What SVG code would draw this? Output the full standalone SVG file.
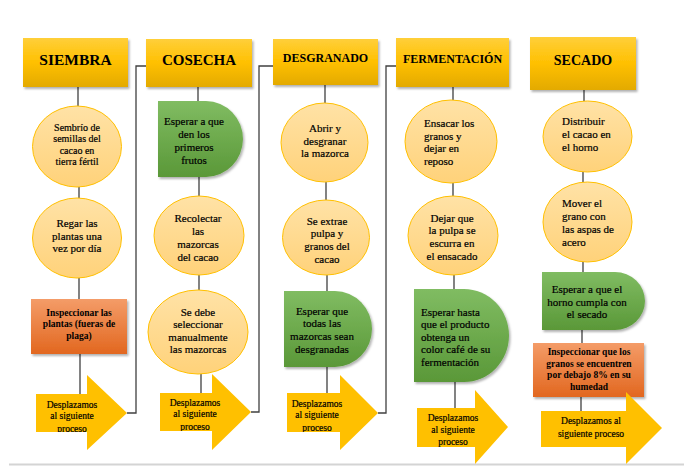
<svg xmlns="http://www.w3.org/2000/svg" width="684" height="466" viewBox="0 0 684 466" font-family="'Liberation Serif', 'Times New Roman', serif">
<defs>
<linearGradient id="gHead" x1="0" y1="0" x2="0" y2="1">
<stop offset="0" stop-color="#FFCF3A"/><stop offset="0.5" stop-color="#FFC000"/><stop offset="1" stop-color="#E3AA00"/>
</linearGradient>
<linearGradient id="gCirc" x1="0" y1="0" x2="0" y2="1">
<stop offset="0" stop-color="#FFE2A6"/><stop offset="1" stop-color="#FFD27A"/>
</linearGradient>
<linearGradient id="gGreen" x1="0" y1="0" x2="0" y2="1">
<stop offset="0" stop-color="#80BC62"/><stop offset="1" stop-color="#5A9838"/>
</linearGradient>
<linearGradient id="gOrange" x1="0" y1="0" x2="0" y2="1">
<stop offset="0" stop-color="#F49C68"/><stop offset="1" stop-color="#E2671F"/>
</linearGradient>
<filter id="sh" x="-10%" y="-10%" width="125%" height="130%">
<feDropShadow dx="1.5" dy="2" stdDeviation="1.2" flood-color="#000" flood-opacity="0.3"/>
</filter>
<clipPath id="clipC3b"><ellipse cx="326" cy="237.5" rx="43.5" ry="37.5"/></clipPath>
<clipPath id="clipA1"><polygon points="36,394 87,394 87,375 127,413 87,450 87,432 36,432"/></clipPath>
<clipPath id="clipA2"><polygon points="160,393 212,393 212,374 251,412 212,450 212,431 160,431"/></clipPath>
<clipPath id="clipA3"><polygon points="287,393 340,393 340,375 378,413 340,450 340,432 287,432"/></clipPath>
</defs>
<style>
.hd{fill:url(#gHead);filter:url(#sh)}
.ci{fill:url(#gCirc);stroke:#FFC000;stroke-width:1}
.gr{fill:url(#gGreen);filter:url(#sh)}
.or{fill:url(#gOrange);filter:url(#sh)}
.ar{fill:#FFC000}
.ln{fill:none;stroke:#404040;stroke-width:1.3}
.ht,.t,.tl,.t10,.tb,.ta{font-family:'Liberation Serif','Times New Roman',serif;fill:#000}
.t,.tl,.t10,.ta{stroke:#000;stroke-width:0.2}
.ht{font-weight:bold;text-anchor:middle}
.t{font-size:11px;text-anchor:middle}
.tl{font-size:11px;text-anchor:start}
.t10{font-size:10px;text-anchor:middle}
.tb{font-size:9.5px;font-weight:bold;text-anchor:middle}
.ta{font-size:9.5px;text-anchor:middle}
</style>
<rect width="684" height="466" fill="#fff"/>
<line x1="9" y1="464.5" x2="684" y2="464.5" stroke="#d4d4d4" stroke-width="2"/>
<g id="connectors">
<line class="ln" x1="78" y1="87" x2="78" y2="106"/>
<line class="ln" x1="79" y1="187" x2="79" y2="198"/>
<line class="ln" x1="79" y1="278" x2="79" y2="299"/>
<line class="ln" x1="80" y1="354" x2="80" y2="394"/>
<path class="ln" d="M127,413 H136 V66 H146"/>
<line class="ln" x1="198" y1="87" x2="198" y2="101"/>
<line class="ln" x1="199" y1="177" x2="199" y2="196"/>
<line class="ln" x1="199" y1="275" x2="199" y2="290"/>
<line class="ln" x1="201" y1="374" x2="201" y2="393"/>
<path class="ln" d="M251,412 H259 V66 H273"/>
<line class="ln" x1="325" y1="85" x2="325" y2="103"/>
<line class="ln" x1="326" y1="182" x2="326" y2="200"/>
<line class="ln" x1="327" y1="275" x2="327" y2="291"/>
<line class="ln" x1="327" y1="367" x2="327" y2="393"/>
<path class="ln" d="M378,413 H386 V66 H396"/>
<line class="ln" x1="453" y1="87" x2="453" y2="100"/>
<line class="ln" x1="453" y1="183" x2="453" y2="196"/>
<line class="ln" x1="454" y1="275" x2="454" y2="289"/>
<line class="ln" x1="455" y1="382" x2="455" y2="408"/>
<line class="ln" x1="584" y1="90" x2="584" y2="101"/>
<line class="ln" x1="583" y1="172" x2="583" y2="182"/>
<line class="ln" x1="583" y1="262" x2="583" y2="272"/>
<line class="ln" x1="582" y1="330" x2="582" y2="343"/>
<line class="ln" x1="581" y1="397" x2="581" y2="411"/>
</g>
<g id="siembra">
<rect class="hd" x="23" y="38" width="105" height="49"/>
<text class="ht" x="75.5" y="64.5" font-size="15.5">SIEMBRA</text>
</g>
<g id="siembra-1">
<ellipse class="ci" cx="77" cy="146.5" rx="44.5" ry="40.5"/>
<text class="t10" x="77"><tspan x="77" y="130.5">Sembrío de</tspan><tspan x="77" y="142">semillas del</tspan><tspan x="77" y="153.5">cacao en</tspan><tspan x="77" y="165">tierra fértil</tspan></text>
</g>
<g id="siembra-2">
<ellipse class="ci" cx="77" cy="238" rx="44.5" ry="40"/>
<text class="t" x="77"><tspan x="77" y="227">Regar las</tspan><tspan x="77" y="239.5">plantas una</tspan><tspan x="77" y="252">vez por día</tspan></text>
</g>
<g id="siembra-3">
<rect class="or" x="31" y="299" width="96" height="55"/>
<text class="tb" x="79"><tspan x="79" y="315.5">Inspeccionar las</tspan><tspan x="79" y="327">plantas (fueras de</tspan><tspan x="79" y="338.5">plaga)</tspan></text>
</g>
<g id="siembra-4">
<polygon class="ar" points="36,394 87,394 87,375 127,413 87,450 87,432 36,432"/>
<text class="ta" x="72" clip-path="url(#clipA1)"><tspan x="72" y="407.5">Desplazamos</tspan><tspan x="72" y="419">al siguiente</tspan><tspan x="72" y="431.5">proceso</tspan></text>
</g>
<g id="cosecha">
<rect class="hd" x="146" y="39" width="106" height="48"/>
<text class="ht" x="199" y="64.5" font-size="15">COSECHA</text>
</g>
<g id="cosecha-1">
<path class="gr" d="M158,101 H206 A37,38 0 0 1 206,177 H158 Z"/>
<text class="t" x="194"><tspan x="194" y="124.5">Esperar a que</tspan><tspan x="194" y="137.5">den los</tspan><tspan x="194" y="150.5">primeros</tspan><tspan x="194" y="163.5">frutos</tspan></text>
</g>
<g id="cosecha-2">
<ellipse class="ci" cx="199" cy="235.5" rx="45" ry="39.5"/>
<text class="t" x="198"><tspan x="198" y="221.5">Recolectar</tspan><tspan x="198" y="234.5">las</tspan><tspan x="198" y="247.5">mazorcas</tspan><tspan x="198" y="260.5">del cacao</tspan></text>
</g>
<g id="cosecha-3">
<ellipse class="ci" cx="198" cy="332" rx="50" ry="42"/>
<text class="t" x="198"><tspan x="198" y="315.5">Se debe</tspan><tspan x="198" y="328">seleccionar</tspan><tspan x="198" y="340.5">manualmente</tspan><tspan x="198" y="353">las mazorcas</tspan></text>
</g>
<g id="cosecha-4">
<polygon class="ar" points="160,393 212,393 212,374 251,412 212,450 212,431 160,431"/>
<text class="ta" x="195" clip-path="url(#clipA2)"><tspan x="195" y="405.5">Desplazamos</tspan><tspan x="195" y="417">al siguiente</tspan><tspan x="195" y="429.5">proceso</tspan></text>
</g>
<g id="desgranado">
<rect class="hd" x="273" y="39" width="105" height="46"/>
<text class="ht" x="325.5" y="62.3" font-size="12">DESGRANADO</text>
</g>
<g id="desgranado-1">
<ellipse class="ci" cx="324.5" cy="142.5" rx="43.5" ry="39.5"/>
<text class="t" x="325"><tspan x="325" y="131.5">Abrir y</tspan><tspan x="325" y="144.5">desgranar</tspan><tspan x="325" y="156.5">la mazorca</tspan></text>
</g>
<g id="desgranado-2">
<ellipse class="ci" cx="326" cy="237.5" rx="43.5" ry="37.5"/>
<text class="t" x="327" clip-path="url(#clipC3b)"><tspan x="327" y="224.5">Se extrae</tspan><tspan x="327" y="236.5">pulpa y</tspan><tspan x="327" y="249.5">granos del</tspan><tspan x="327" y="262.5">cacao</tspan></text>
</g>
<g id="desgranado-3">
<path class="gr" d="M284,291 H335 A37,38 0 0 1 335,367 H284 Z"/>
<text class="t" x="322"><tspan x="322" y="314.5">Esperar que</tspan><tspan x="322" y="326.5">todas las</tspan><tspan x="322" y="339.5">mazorcas sean</tspan><tspan x="322" y="352.5">desgranadas</tspan></text>
</g>
<g id="desgranado-4">
<polygon class="ar" points="287,393 340,393 340,375 378,413 340,450 340,432 287,432"/>
<text class="ta" x="317" clip-path="url(#clipA3)"><tspan x="317" y="406.5">Desplazamos</tspan><tspan x="317" y="418">al siguiente</tspan><tspan x="317" y="430.5">proceso</tspan></text>
</g>
<g id="fermentacion">
<rect class="hd" x="396" y="38" width="113" height="49"/>
<text class="ht" x="452.5" y="63.3" font-size="12">FERMENTACIÓN</text>
</g>
<g id="fermentacion-1">
<ellipse class="ci" cx="451" cy="141.5" rx="46" ry="41.5"/>
<text class="tl" x="424"><tspan x="424" y="126.5">Ensacar los</tspan><tspan x="424" y="139.5">granos y</tspan><tspan x="424" y="151.5">dejar en</tspan><tspan x="424" y="164.5">reposo</tspan></text>
</g>
<g id="fermentacion-2">
<ellipse class="ci" cx="453" cy="235.5" rx="45" ry="39.5"/>
<text class="t" x="452"><tspan x="452" y="221.5">Dejar que</tspan><tspan x="452" y="233.5">la pulpa se</tspan><tspan x="452" y="246.5">escurra en</tspan><tspan x="452" y="259.5">el ensacado</tspan></text>
</g>
<g id="fermentacion-3">
<path class="gr" d="M414,289 H464 A45,46.5 0 0 1 464,382 H414 Z"/>
<text class="tl" x="421"><tspan x="421" y="315.5">Esperar hasta</tspan><tspan x="421" y="327.5">que el producto</tspan><tspan x="421" y="340.5">obtenga un</tspan><tspan x="421" y="352.5">color café de su</tspan><tspan x="421" y="365.5">fermentación</tspan></text>
</g>
<g id="fermentacion-4">
<polygon class="ar" points="417,408 475,408 475,390 508,427 475,464 475,447 417,447"/>
<text class="ta" x="453"><tspan x="453" y="420.5">Desplazamos</tspan><tspan x="453" y="432.5">al siguiente</tspan><tspan x="453" y="445">proceso</tspan></text>
</g>
<g id="secado">
<rect class="hd" x="530" y="37" width="106" height="53"/>
<text class="ht" x="583" y="65" font-size="14">SECADO</text>
</g>
<g id="secado-1">
<ellipse class="ci" cx="587.5" cy="136.5" rx="44.5" ry="35.5"/>
<text class="tl" x="562"><tspan x="562" y="124.5">Distribuir</tspan><tspan x="562" y="137.5">el cacao en</tspan><tspan x="562" y="150.5">el horno</tspan></text>
</g>
<g id="secado-2">
<ellipse class="ci" cx="587.5" cy="222" rx="44.5" ry="40"/>
<text class="tl" x="562"><tspan x="562" y="206.5">Mover el</tspan><tspan x="562" y="219.5">grano con</tspan><tspan x="562" y="232.5">las aspas de</tspan><tspan x="562" y="245.5">acero</tspan></text>
</g>
<g id="secado-3">
<path class="gr" d="M542,272 H615 A30,29 0 0 1 615,330 H542 Z"/>
<text class="t" x="587"><tspan x="587" y="292.5">Esperar a que el</tspan><tspan x="587" y="305.5">horno cumpla con</tspan><tspan x="587" y="317.5">el secado</tspan></text>
</g>
<g id="secado-4">
<rect class="or" x="533" y="343" width="111" height="54"/>
<text class="tb" x="589"><tspan x="589" y="354.5">Inspeccionar que los</tspan><tspan x="589" y="366.5">granos se encuentren</tspan><tspan x="589" y="377.5">por debajo 8% en su</tspan><tspan x="589" y="389.5">humedad</tspan></text>
</g>
<g id="secado-5">
<polygon class="ar" points="541,411 626,411 626,392 662,428 626,464 626,447 541,447"/>
<text class="ta" x="591"><tspan x="591" y="423.5">Desplazamos al</tspan><tspan x="591" y="436.5">siguiente proceso</tspan></text>
</g>
</svg>
